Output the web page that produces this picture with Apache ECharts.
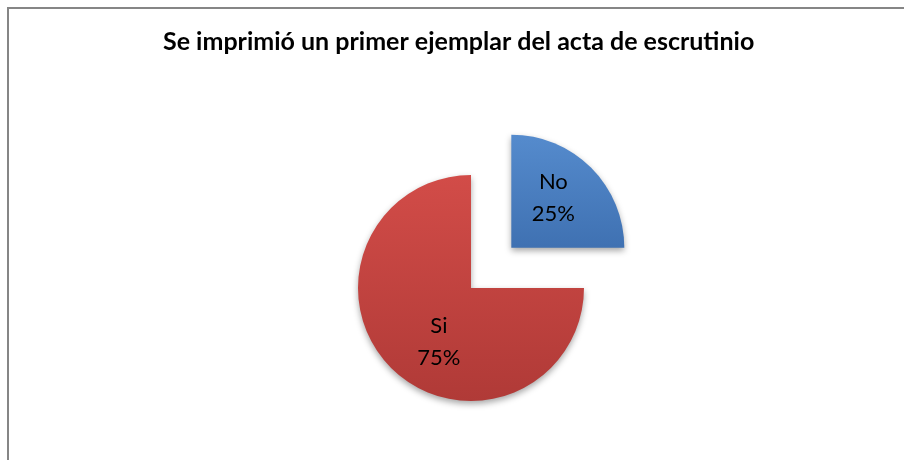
<!DOCTYPE html>
<html>
<head>
<meta charset="utf-8">
<script src="https://cdn.jsdelivr.net/npm/echarts@6/dist/echarts.min.js"></script>
<style>
  html, body { margin: 0; padding: 0; background: #fff; }
  #chart { width: 904px; height: 460px; }
</style>
</head>
<body>
<div id="chart"></div>
<script>
const categories = ['No', 'Si']
const values = [25, 75]
const titleText = 'Se imprimió un primer ejemplar del acta de escrutinio'

const sliceColors = [
  { top: '#558bcd', bottom: '#3f71b2' },
  { top: '#d24c48', bottom: '#b03a37' }
]
// nudges so the labels sit where the original has them
const labelShift = [
  { dx: 0, dy: -8 },
  { dx: 10, dy: 12 }
]

const myChart = echarts.init(document.getElementById('chart'))

myChart.setOption({
  backgroundColor: '#fff',
  animation: false,
  graphic: [
    {
      type: 'rect',
      shape: { x: 8, y: 8, width: 1000, height: 1000 },
      style: { fill: 'none', stroke: '#868686', lineWidth: 2 },
      silent: true
    }
  ],
  title: {
    text: titleText,
    left: 163,
    top: 29,
    padding: 0,
    textStyle: {
      fontFamily: 'Lato',
      fontWeight: 'bold',
      fontSize: 25,
      color: '#000'
    }
  },
  series: [
    {
      type: 'pie',
      center: [471, 288],
      radius: 113,
      startAngle: 90,
      clockwise: true,
      selectedMode: 'single',
      selectedOffset: 57,
      label: {
        show: true,
        position: 'inside',
        formatter: '{b}\n{d}%',
        fontFamily: 'Lato',
        fontSize: 22,
        lineHeight: 32,
        color: '#000'
      },
      labelLayout: function (params) {
        return labelShift[params.dataIndex]
      },
      labelLine: { show: false },
      emphasis: { disabled: true },
      data: categories.map((name, i) => ({
        name,
        value: values[i],
        selected: i === 0,
        itemStyle: {
          color: new echarts.graphic.LinearGradient(0, 0, 0, 1, [
            { offset: 0, color: sliceColors[i].top },
            { offset: 1, color: sliceColors[i].bottom }
          ]),
          shadowBlur: 6,
          shadowOffsetY: 3,
          shadowColor: 'rgba(0,0,0,0.35)'
        }
      }))
    }
  ]
})
</script>
</body>
</html>
